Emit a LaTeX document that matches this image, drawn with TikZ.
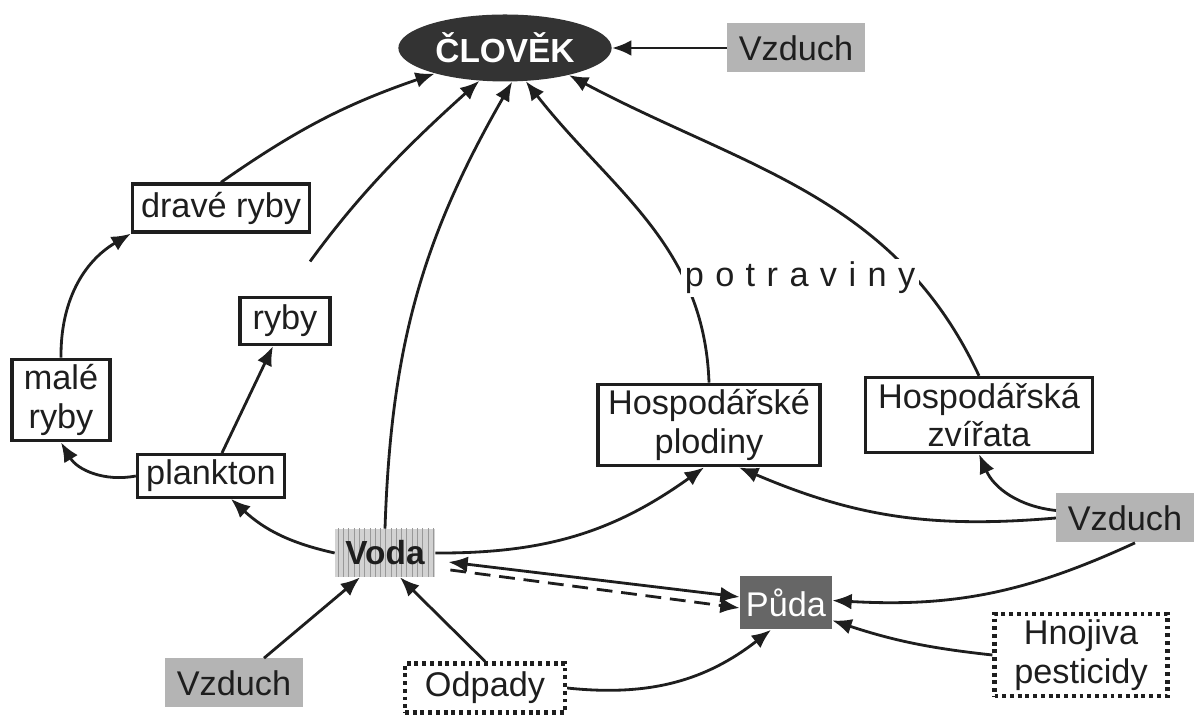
\documentclass[tikz,border=0pt]{standalone}
\usepackage{fontspec}
\setmainfont{Liberation Sans}
\usetikzlibrary{arrows.meta,positioning,shapes.geometric,patterns}

\definecolor{inkgray}{HTML}{1E1E1E}
\definecolor{mangray}{HTML}{333333}
\definecolor{airgray}{HTML}{B4B4B4}
\definecolor{soilgray}{HTML}{666666}

\tikzset{
	>={Latex[length=11pt,width=9pt]},
	every node/.append style={font=\fontsize{19.5}{22}\selectfont, text=inkgray},
	box/.style = {
			draw            = inkgray,
			line width      = 1.9pt,
			inner sep       = 3pt,
			align           = center,
		},
	air/.style = {
			fill            = airgray,
			minimum width   = 2.75cm,
			minimum height  = 0.98cm,
		},
	waste/.style = {
			draw            = inkgray,
			line width      = 2.4pt,
			dash pattern    = on 2.2pt off 2.2pt,
			align           = center,
		},
	link/.style = {->, line width=1.6pt, draw=inkgray},
}

\begin{document}
\begin{tikzpicture}
	\useasboundingbox (0,0) rectangle (23.94,14.3);

	% top
	\node[ellipse, fill=mangray, minimum width=4.2cm, minimum height=1.34cm,
		text=white, font=\fontsize{19}{22}\selectfont\bfseries] (clovek) at (10.1,13.34) {ČLOVĚK};
	\node[air] (airtop) at (15.92,13.34) {Vzduch};

	% water chain
	\node[box, minimum width=3.54cm, minimum height=0.96cm] (drave) at (4.42,10.14) {dravé ryby};
	\node[box, minimum width=1.8cm, minimum height=0.94cm] (ryby) at (5.7,7.88) {ryby};
	\node[box, minimum width=1.96cm, minimum height=1.4cm] (male) at (1.22,6.3) {malé\\ryby};
	\node[box, minimum width=2.94cm, minimum height=0.84cm] (plankton) at (4.22,4.78) {plankton};
	\node[preaction={fill=gray!35}, pattern=vertical lines, pattern color=gray!80,
		minimum width=2cm, minimum height=0.96cm, font=\fontsize{19}{22}\selectfont\bfseries] (voda) at (7.7,3.24) {Voda};

	% farm
	\node[box, minimum width=4.44cm, minimum height=1.6cm] (plodiny) at (14.18,5.8) {Hospodářské\\plodiny};
	\node[box, minimum width=4.54cm, minimum height=1.5cm] (zvirata) at (19.58,6.0) {Hospodářská\\zvířata};
	\node[air] (airright) at (22.5,3.94) {Vzduch};
	\node[fill=soilgray, text=white, minimum width=1.84cm, minimum height=1.06cm] (puda) at (15.72,2.24) {Půda};

	% bottom
	\node[air] (airleft) at (4.68,0.64) {Vzduch};
	\node[waste, minimum width=3.2cm, minimum height=0.98cm] (odpady) at (9.7,0.54) {Odpady};
	\node[waste, minimum width=3.46cm, minimum height=1.6cm] (hnojiva) at (21.62,1.2) {Hnojiva\\pesticidy};

	% arrows to man
	\draw[link] (airtop) -- (clovek);
	\draw[link] (drave.north) to[bend left=8] (clovek.200);
	\draw[link, shorten <=0.85cm] (ryby.north) to[bend left=6] (clovek.232);
	\draw[link] (voda.north) to[bend left=14] (clovek.282);
	\draw[link] (plodiny.north) to[out=92, in=-52] (clovek.302);
	\draw[link] (zvirata.north) to[out=115, in=-28] (clovek.337);
	\node[fill=white, inner sep=2pt] (potraviny) at (16.0,8.74) {p\,\,o\,\,t\,\,r\,\,a\,\,v\,\,i\,\,n\,\,y};

	% fish
	\draw[link] (plankton.west) to[bend left=35] (male.south);
	\draw[link] (male.north) to[bend left=30] (drave.south west);
	\draw[link] (plankton) -- (ryby);
	\draw[link] (voda.west) to[bend left=15] ([xshift=0.4cm]plankton.south);

	% soil and farm
	\draw[link] (voda.east) to[bend right=18] ([xshift=-0.1cm]plodiny.south);
	\draw[link] (airright.west) to[bend left=14] ([xshift=0.6cm]plodiny.south);
	\draw[link] ([yshift=0.15cm]airright.west) to[bend left=30] (zvirata.south);
	\draw[link] ([xshift=0.2cm]airright.south) to[bend left=14] ([yshift=0.05cm]puda.east);
	\draw[link, <->] ([shift={(0.26cm,-0.18cm)}]voda.east) -- ([yshift=0.12cm]puda.west);
	\draw[link, dash pattern=on 9pt off 5pt] ([shift={(0.3cm,-0.34cm)}]voda.east) -- ([yshift=-0.1cm]puda.west);
	\draw[link] (airleft.north) ++(0.6cm,0) -- ([xshift=-0.5cm]voda.south);
	\draw[link] (odpady.north) -- ([xshift=0.3cm]voda.south);
	\draw[link] (odpady.east) to[bend right=22] ([xshift=-0.3cm]puda.south);
	\draw[link] (hnojiva.west) to[bend left=6] ([yshift=-0.35cm]puda.east);
\end{tikzpicture}
\end{document}
